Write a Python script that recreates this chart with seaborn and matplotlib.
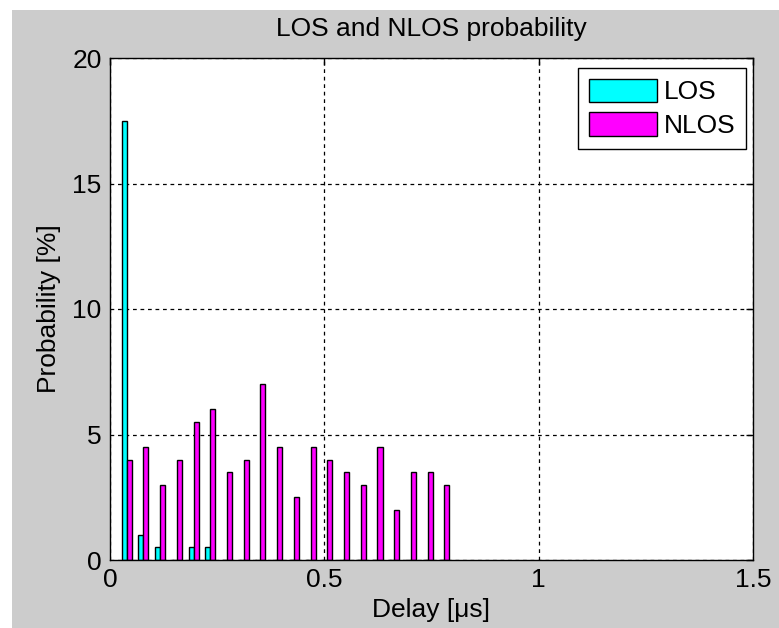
import matplotlib
matplotlib.use("Agg")
import matplotlib.pyplot as plt
from matplotlib.patches import Patch, Rectangle
import pandas as pd
import seaborn as sns

# Delay bins (microseconds) and occurrence probability per bin (%)
delays = [0.039, 0.078, 0.117, 0.156, 0.195, 0.234, 0.273, 0.312, 0.351, 0.390,
          0.429, 0.468, 0.507, 0.546, 0.585, 0.624, 0.663, 0.702, 0.741, 0.780]
los_prob = [17.5, 1.0, 0.5, 0.0, 0.5, 0.5, 0.0, 0.0, 0.0, 0.0,
            0.0, 0.0, 0.0, 0.0, 0.0, 0.0, 0.0, 0.0, 0.0, 0.0]
nlos_prob = [4.0, 4.5, 3.0, 4.0, 5.5, 6.0, 3.5, 4.0, 7.0, 4.5,
             2.5, 4.5, 4.0, 3.5, 3.0, 4.5, 2.0, 3.5, 3.5, 3.0]
series_names = ["LOS", "NLOS"]
series_colors = {"LOS": "#00FFFF", "NLOS": "#FF00FF"}
x_ticks = [0, 0.5, 1, 1.5]
y_ticks = [0, 5, 10, 15, 20]

df = pd.DataFrame({
    "Delay": delays + delays,
    "Probability": los_prob + nlos_prob,
    "Type": ["LOS"] * len(delays) + ["NLOS"] * len(delays),
})

sns.set_style("white")
plt.rcParams["font.family"] = ["Liberation Sans", "DejaVu Sans"]
plt.rcParams["text.color"] = "black"
plt.rcParams["axes.labelcolor"] = "black"
plt.rcParams["xtick.color"] = "black"
plt.rcParams["ytick.color"] = "black"
FS = 19

W, H = 779, 628
fig = plt.figure(figsize=(W / 100, H / 100), dpi=100, facecolor="white")
# grey figure panel
fig.patches.append(Rectangle((12 / W, 0), 1 - 12 / W, 1 - 10 / H,
                             transform=fig.transFigure, facecolor="#CCCCCC",
                             edgecolor="none", zorder=-10))

ax = fig.add_axes([110 / W, (H - 560) / H, (753 - 110) / W, (560 - 58) / H])
ax.set_facecolor("white")

sns.barplot(data=df, x="Delay", y="Probability", hue="Type",
            hue_order=series_names, palette=series_colors, native_scale=True,
            width=0.6, saturation=1, edgecolor="black", linewidth=1,
            errorbar=None, legend=False, ax=ax)

ax.set_xlim(0, 1.5)
ax.set_ylim(0, 20)
ax.set_xticks(x_ticks)
ax.set_xticklabels(["0", "0.5", "1", "1.5"])
ax.set_yticks(y_ticks)
ax.set_yticklabels([str(t) for t in y_ticks])
ax.tick_params(direction="in", length=5, width=1, color="black",
               labelcolor="black", top=True, right=True, labelsize=FS, pad=6)

ax.set_axisbelow(True)
ax.grid(True, color="black", linestyle=(0, (3, 3)), linewidth=0.9)

for sp in ax.spines.values():
    sp.set_visible(True)
    sp.set_color("black")
    sp.set_linewidth(1)

ax.set_title("LOS and NLOS probability", fontsize=FS, pad=16, color="black")
ax.set_xlabel("Delay [\u03bcs]", fontsize=FS, labelpad=4, color="black")
ax.set_ylabel("Probability [%]", fontsize=FS, labelpad=8, color="black")

handles = [Patch(facecolor=series_colors[n], edgecolor="black", linewidth=1, label=n)
           for n in series_names]
leg = ax.legend(handles=handles, loc="upper right",
                bbox_to_anchor=((746 - 110) / 643, (560 - 68) / 502),
                fontsize=FS, frameon=True, fancybox=False, edgecolor="black",
                framealpha=1, handlelength=2.6, handleheight=1.0,
                handletextpad=0.25, borderpad=0.4, labelspacing=0.3,
                borderaxespad=0)
leg.get_frame().set_linewidth(1)

fig.savefig("out.png", dpi=100, facecolor=fig.get_facecolor())
